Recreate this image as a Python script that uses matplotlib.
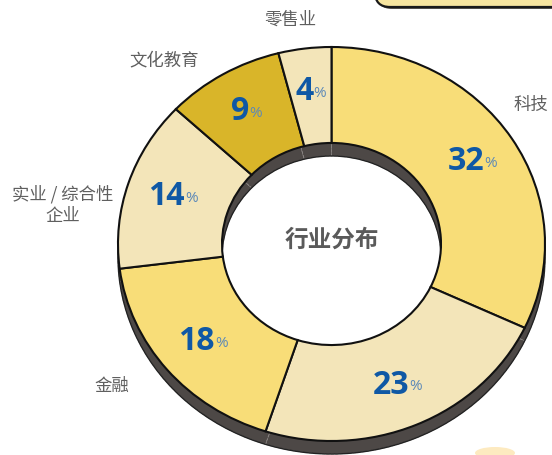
import numpy as np
import matplotlib
matplotlib.use("Agg")
import matplotlib.pyplot as plt
from matplotlib.patches import FancyBboxPatch, Ellipse

plt.rcParams['font.family'] = ['Noto Sans CJK SC', 'DejaVu Sans']

# data
categories = ["科技", "", "金融", "实业 / 综合性\n企业", "文化教育", "零售业"]
shares = [32, 23, 18, 14, 9, 4]
colors = ["#f8dd78", "#f3e5b9", "#f8dd78", "#f3e5b9", "#d9b529", "#f3e5b9"]
# label positions (pixels)
label_xy = [(531, 105), None, (112, 386), (63, 205), (164, 60), (290, 20)]

W, H = 552, 455
cx, cy = 331.5, 244
rx, ry = 213.5, 197
depth = 13

fig = plt.figure(figsize=(W / 100, H / 100), dpi=100)

# background pixel axes for decorations
bg = fig.add_axes([0, 0, 1, 1])
bg.set_xlim(0, W)
bg.set_ylim(H, 0)
bg.axis("off")
bg.add_patch(FancyBboxPatch((377, -40), 260, 49, boxstyle="round,pad=0,rounding_size=15",
                            fc="#5a5552", ec="none"))
bg.add_patch(FancyBboxPatch((375, -40), 260, 47, boxstyle="round,pad=0,rounding_size=15",
                            fc="#f8e6a0", ec="#1a1a1a", lw=1.6))
bg.add_patch(Ellipse((495, 453), 40, 12, fc="#fdeac0", ec="none"))

# pie axes: unit circle maps to ellipse in pixels
ax = fig.add_axes([0, 0, 1, 1])

width = 1 - 109.5 / 213.5
off = depth / ry

# shadow (extruded side)
ax.pie(shares, colors=["#4d4846"] * len(shares), startangle=90, counterclock=False,
       radius=1, center=(0, -off), frame=True,
       wedgeprops=dict(width=width, edgecolor="#8a8583", linewidth=0.6, linestyle="--"))
ax.pie([1], colors=["none"], radius=1, center=(0, -off), frame=True,
       wedgeprops=dict(width=width, edgecolor="#222222", linewidth=1.0, fill=False))

# top face
ax.pie(shares, colors=colors, startangle=90, counterclock=False, radius=1, frame=True,
       wedgeprops=dict(width=width, edgecolor="#111111", linewidth=1.5))
ax.set_aspect("auto")
ax.set_xlim(-cx / rx, (W - cx) / rx)
ax.set_ylim(-(H - cy) / ry, cy / ry)
ax.axis("off")

# percentage labels
start = 90.0
r_lab = 0.78
for s in shares:
    mid = np.deg2rad(start - 360 * (s / 2) / 100)
    start -= 360 * s / 100
    x, y = r_lab * np.cos(mid), r_lab * np.sin(mid)
    t = ax.text(x - 0.03, y, str(s), ha="center", va="center", fontsize=23,
                fontweight="bold", color="#0f58a5", family=["Open Sans", "DejaVu Sans"])
    ax.annotate("%", xy=(1, 0.22), xycoords=t, ha="left", va="bottom", fontsize=11,
                color="#5b88b8", xytext=(0, 0), textcoords="offset points",
                family=["Open Sans", "DejaVu Sans"])

# category labels
for name, pos in zip(categories, label_xy):
    if pos is None:
        continue
    bg.text(pos[0], pos[1], name, ha="center", va="center", fontsize=12.5,
            color="#5f5f5f", linespacing=1.3)

ax.text(0, 0.02, "行业分布", ha="center", va="center", fontsize=17,
        fontweight="bold", color="#5a5a5a")

fig.savefig("out.png", dpi=100)
